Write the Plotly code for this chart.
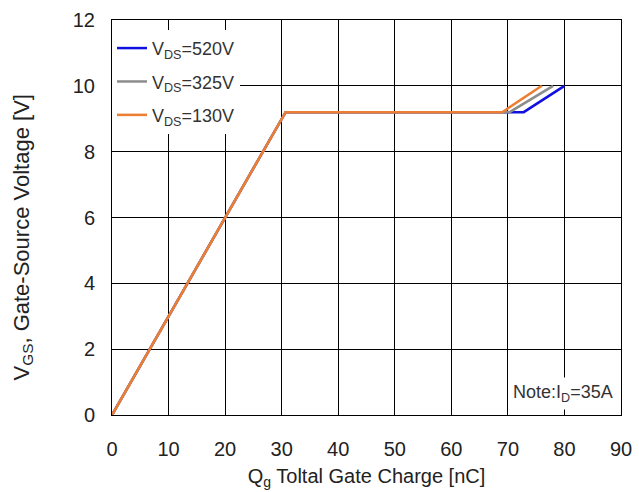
import plotly.graph_objects as go

# Gate charge curves (Qg in nC, VGS in V) for three drain-source voltages
series_names = ["V<sub>DS</sub>=520V", "V<sub>DS</sub>=325V", "V<sub>DS</sub>=130V"]
series_colors = ["#1010e0", "#8c8c8c", "#ed7d31"]

qg_520 = [0, 30.7, 72.8, 80.0]
vgs_520 = [0, 9.2, 9.2, 10.0]

qg_325 = [0, 30.7, 70.3, 78.0]
vgs_325 = [0, 9.2, 9.2, 10.0]

qg_130 = [0, 30.7, 69.0, 76.0]
vgs_130 = [0, 9.2, 9.2, 10.0]

x_ticks = [0, 10, 20, 30, 40, 50, 60, 70, 80, 90]
y_ticks = [0, 2, 4, 6, 8, 10, 12]

fig = go.Figure()
for i, (name, color, xs, ys) in enumerate(zip(
        series_names, series_colors,
        [qg_520, qg_325, qg_130], [vgs_520, vgs_325, vgs_130])):
    fig.add_trace(go.Scatter(
        x=xs, y=ys, mode="lines", name=name, legendgroup=f"g{i}",
        line=dict(color=color, width=2.5),
    ))

font_family = "Liberation Sans, Arial, sans-serif"
text_color = "#222222"

fig.update_layout(
    width=639, height=492,
    margin=dict(l=112, r=18, t=20, b=77),
    paper_bgcolor="white", plot_bgcolor="white",
    font=dict(family=font_family, size=16, color=text_color),
    showlegend=True,
    legend=dict(
        x=0.0, y=0.975, xanchor="left", yanchor="top",
        bgcolor="white", borderwidth=0,
        font=dict(size=18, color="#333333"),
        traceorder="grouped", tracegroupgap=7,
        itemwidth=30,
    ),
    xaxis=dict(
        range=[0, 90], tickvals=x_ticks, showgrid=True, gridcolor="black",
        gridwidth=1, zeroline=False, showline=True, linecolor="black",
        linewidth=1, mirror=True, ticks="", ticklabelstandoff=16,
        automargin=False,
        tickfont=dict(size=20, color=text_color),
        title=dict(text="Q<sub>g</sub> Toltal Gate Charge [nC]",
                   font=dict(size=20, color=text_color), standoff=9),
    ),
    yaxis=dict(
        range=[0, 12], tickvals=y_ticks, showgrid=True, gridcolor="black",
        gridwidth=1, zeroline=False, showline=True, linecolor="black",
        linewidth=1, mirror=True, ticks="", ticklabelstandoff=12,
        automargin=False,
        tickfont=dict(size=20, color=text_color),
    ),
)

# Vertical axis title, placed as a rotated annotation left of the tick labels
fig.add_annotation(
    x=0, y=0.5, xref="paper", yref="paper", xanchor="center", yanchor="middle",
    xshift=-90, yshift=-20, textangle=-90, showarrow=False,
    text="V<sub>GS</sub>, Gate-Source Voltage [V]",
    font=dict(size=22, color=text_color),
)

fig.add_annotation(
    x=0.995, y=0.012, xref="paper", yref="paper", xanchor="right", yanchor="bottom",
    text="Note:I<sub>D</sub>=35A", showarrow=False, bgcolor="white",
    font=dict(size=18, color="#333333"), borderpad=4,
)

fig.write_html("out.html")
